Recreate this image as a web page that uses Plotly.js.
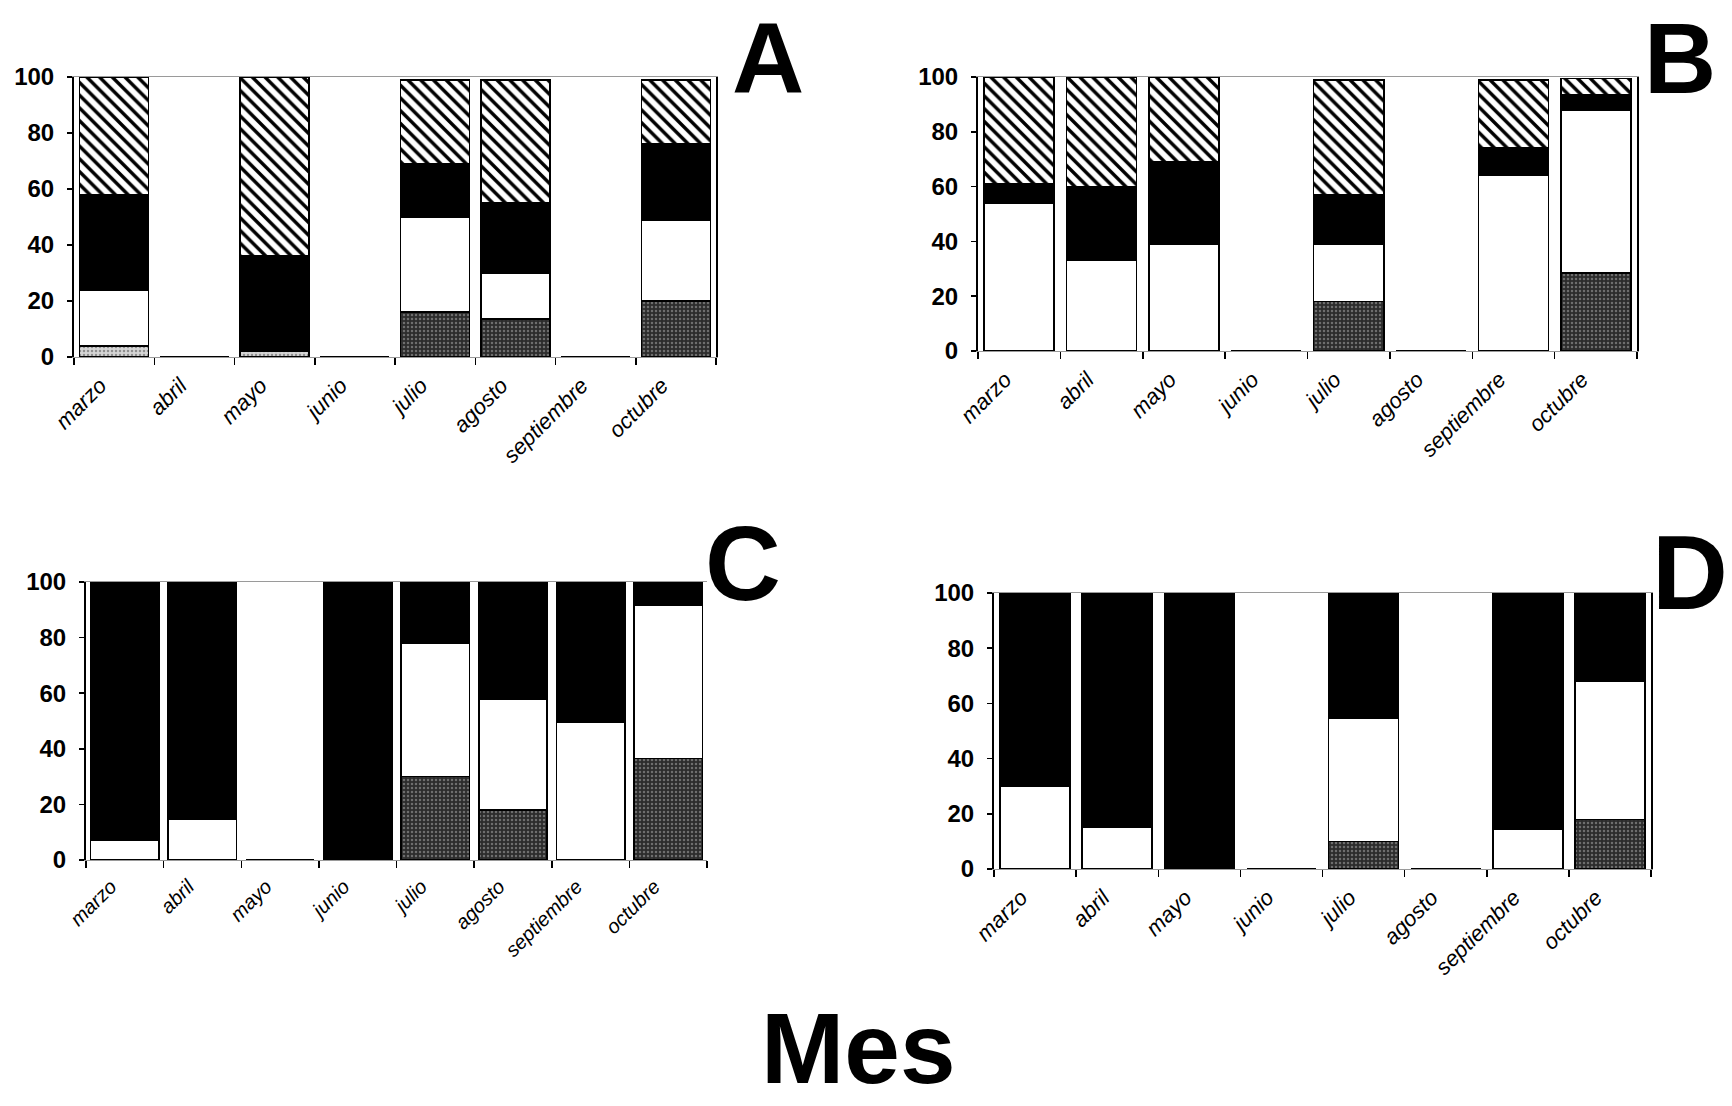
<!DOCTYPE html>
<html>
<head>
<meta charset="utf-8">
<script src="https://cdn.plot.ly/plotly-3.0.1.min.js"></script>
<style>
html,body{margin:0;padding:0;background:#fff;}
#chart{width:1732px;height:1106px;}
</style>
</head>
<body>
<div id="chart"></div>
<script>
const months = ['marzo','abril','mayo','junio','julio','agosto','septiembre','octubre'];
const yTicks = [0,20,40,60,80,100];

// Panel A
const A_light = [4,0,2,0,0,0,0,0];
const A_gray  = [0,0,0,0,16,13.5,0,20];
const A_white = [20,0,0,0,34,16.5,0,29];
const A_black = [34,0,34,0,19,25,0,27];
const A_hatch = [42,0,64,0,30,44,0,23];

// Panel B
const B_gray  = [0,0,0,0,18,0,0,28.5];
const B_white = [54,33,39,0,21,0,64,59.5];
const B_black = [7,27,30,0,18,0,10,5.5];
const B_hatch = [39,40,31,0,42,0,25,6];

// Panel C
const C_gray  = [0,0,0,0,30,18,0,36.5];
const C_white = [7,14.5,0,0,48,40,49.5,55];
const C_black = [93,85.5,0,100,22,42,50.5,8.5];

// Panel D
const D_gray  = [0,0,0,0,10,0,0,18];
const D_white = [30,15,0,0,44.5,0,14.5,50];
const D_black = [70,85,100,0,45.5,0,85.5,32];

const outline = {color:'#000', width:1.6};
const styles = {
  light: {color:'#d6d6d6', line:outline, pattern:{shape:'.', fgcolor:'#8f8f8f', bgcolor:'#d6d6d6', size:4, solidity:0.3}},
  gray:  {color:'#2c2c2c', line:outline, pattern:{shape:'.', fgcolor:'#6e6e6e', bgcolor:'#2c2c2c', size:4, solidity:0.3}},
  white: {color:'#ffffff', line:outline},
  black: {color:'#000000', line:outline},
  hatch: {color:'#ffffff', line:outline, pattern:{shape:'\\', fgcolor:'#000', bgcolor:'#fff', size:9, solidity:0.38}}
};

function tr(vals, style, ax, w){
  return {type:'bar', x:months, y:vals, marker:styles[style], width:w,
          xaxis:'x'+ax, yaxis:'y'+ax, showlegend:false, hoverinfo:'skip'};
}

const data = [
  tr(A_light,'light','',0.86), tr(A_gray,'gray','',0.86), tr(A_white,'white','',0.86), tr(A_black,'black','',0.86), tr(A_hatch,'hatch','',0.86),
  tr(B_gray,'gray','2',0.85), tr(B_white,'white','2',0.85), tr(B_black,'black','2',0.85), tr(B_hatch,'hatch','2',0.85),
  tr(C_gray,'gray','3',0.88), tr(C_white,'white','3',0.88), tr(C_black,'black','3',0.88),
  tr(D_gray,'gray','4',0.85), tr(D_white,'white','4',0.85), tr(D_black,'black','4',0.85)
];

const W=1732, H=1106;
function px(a,b){return [a/W, b/W];}
function py(top,bottom){return [1-bottom/H, 1-top/H];}

function xax(domain, anchor, fs){
  return {domain:domain, anchor:anchor, type:'category', categoryorder:'array', categoryarray:months,
    tickangle:-45, ticks:'outside', tickson:'boundaries', ticklen:7, tickcolor:'#000', tickwidth:1.5,
    showline:true, linecolor:'#9a9a9a', linewidth:1, mirror:true, layer:'below traces',
    ticklabelshift:-14, ticklabelstandoff:6,
    tickfont:{family:'Liberation Sans, Arial, sans-serif', size:fs, color:'#000', style:'italic'},
    showgrid:false, zeroline:false, fixedrange:true};
}
function yax(domain, anchor, mirror){
  return {domain:domain, anchor:anchor, range:[0,100], tickvals:yTicks, ticks:'outside', ticklen:5,
    tickcolor:'#000', tickwidth:1.5, showline:true, linecolor:'#000', linewidth:2, mirror:mirror,
    ticklabelstandoff:8,
    tickfont:{family:'Liberation Sans, Arial, sans-serif', size:24, color:'#000', weight:'bold'},
    showgrid:false, zeroline:false, fixedrange:true};
}

const big = {family:'Liberation Sans, Arial, sans-serif', size:100, color:'#000', weight:'bold'};
const layout = {
  width:W, height:H, margin:{l:0,r:0,t:0,b:0}, paper_bgcolor:'#fff', plot_bgcolor:'rgba(0,0,0,0)',
  barmode:'stack', showlegend:false,
  xaxis:  xax(px(74,716),  'y', 22),
  yaxis:  yax(py(77,357),  'x', true),
  xaxis2: xax(px(978,1637),'y2', 22),
  yaxis2: yax(py(77,351),  'x2', true),
  xaxis3: xax(px(86,707),  'y3', 20),
  yaxis3: yax(py(582,860), 'x3', false),
  xaxis4: xax(px(994,1651),'y4', 22),
  yaxis4: yax(py(593,869), 'x4', true),
  annotations: [
    {text:'A', x:768/W, y:1, xref:'paper', yref:'paper', xanchor:'center', yanchor:'top', showarrow:false, font:big},
    {text:'B', x:1680/W, y:1, xref:'paper', yref:'paper', xanchor:'center', yanchor:'top', showarrow:false, font:big},
    {text:'C', x:743/W, y:1-563/H, xref:'paper', yref:'paper', xanchor:'center', yanchor:'middle', showarrow:false, font:Object.assign({}, big, {size:105})},
    {text:'D', x:1690/W, y:1-572/H, xref:'paper', yref:'paper', xanchor:'center', yanchor:'middle', showarrow:false, font:Object.assign({}, big, {size:105})},
    {text:'Mes', x:858/W, y:0, xref:'paper', yref:'paper', xanchor:'center', yanchor:'bottom', showarrow:false, font:big}
  ]
};

Plotly.newPlot('chart', data, layout, {displayModeBar:false, staticPlot:true});
</script>
</body>
</html>
